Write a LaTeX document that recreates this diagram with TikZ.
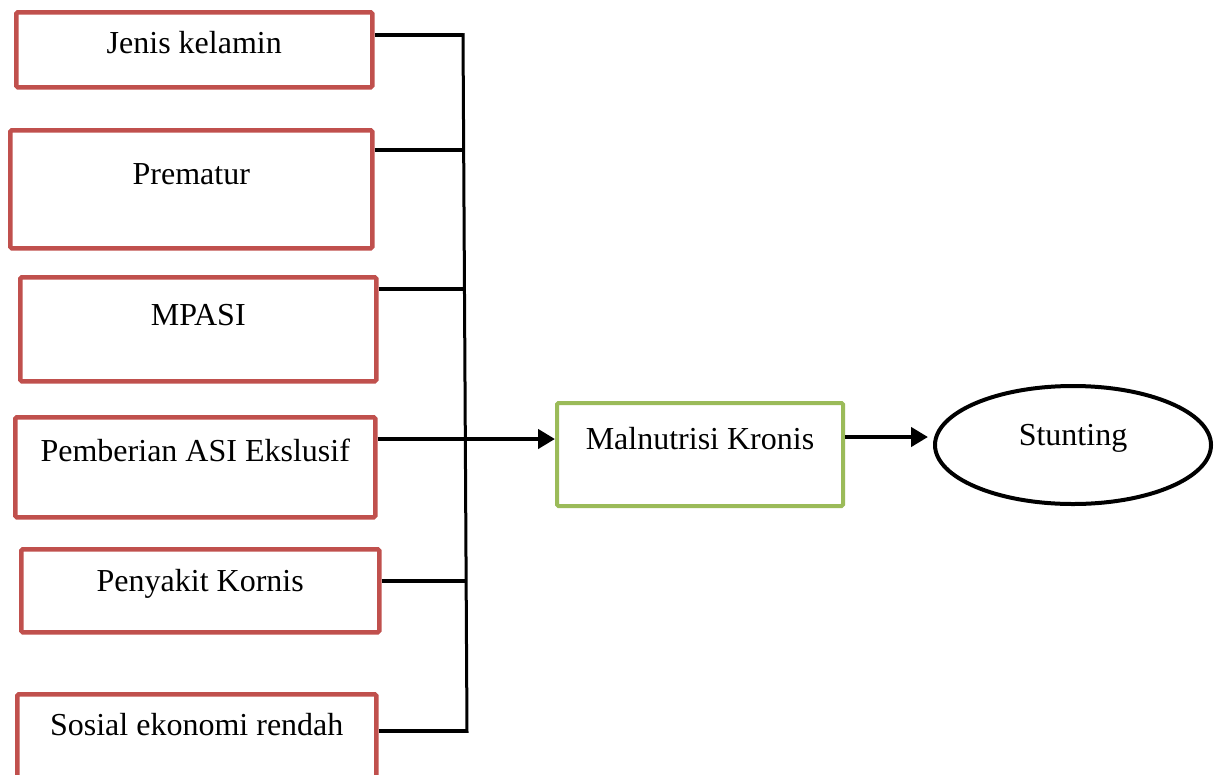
\documentclass[tikz,border=0pt]{standalone}
\usepackage{fontspec}
\setmainfont{Liberation Serif}
\usetikzlibrary{arrows.meta,shapes.geometric}
\definecolor{boxred}{HTML}{C0504D}
\definecolor{boxgreen}{HTML}{9BBB59}
\tikzset{
  factor/.style={draw=boxred, line width=4.5pt, rounded corners=1.5pt, anchor=north west,
    inner sep=0pt, align=center, font=\fontsize{32}{38}\selectfont},
  midbox/.style={draw=boxgreen, line width=4pt, rounded corners=1.5pt, anchor=north west,
    inner sep=0pt, align=center, font=\fontsize{32}{38}\selectfont},
  outcome/.style={draw=black, ellipse, line width=4pt, inner sep=0pt,
    minimum width=276pt, minimum height=118pt, text height=22pt, text depth=22pt,
    font=\fontsize{32}{38}\selectfont},
  bus/.style={line width=3.5pt},
  flow/.style={line width=4.5pt, -{Triangle[length=17pt,width=19pt]}}
}
\begin{document}
\begin{tikzpicture}[x=1pt,y=-1pt]
\useasboundingbox (0,0) rectangle (1222,774);
% factor boxes
\node[factor, minimum width=356pt, minimum height=75pt, text height=41pt, text depth=34pt] (b1) at (14,10) {Jenis kelamin};
\node[factor, minimum width=362pt, minimum height=118pt, text height=54pt, text depth=64pt] (b2) at (8,128) {Prematur};
\node[factor, minimum width=356pt, minimum height=104pt, text height=48pt, text depth=56pt] (b3) at (18,275) {MPASI};
\node[factor, minimum width=360pt, minimum height=100pt, text height=44pt, text depth=56pt] (b4) at (13,415) {Pemberian ASI Ekslusif};
\node[factor, minimum width=358pt, minimum height=83pt, text height=42pt, text depth=41pt] (b5) at (19,547) {Penyakit Kornis};
\node[factor, minimum width=359pt, minimum height=100pt, text height=41pt, text depth=59pt] (b6) at (15,692) {Sosial ekonomi rendah};
% middle box and outcome
\node[midbox, minimum width=286pt, minimum height=103pt, text height=46pt, text depth=57pt] (mk) at (555,401) {Malnutrisi Kronis};
\node[outcome] (st) at (1073,445) {Stunting};
% bus junctions
\coordinate (j1) at (463,35);
\coordinate (j2) at (463,150);
\coordinate (j3) at (464,289);
\coordinate (j4) at (465,439);
\coordinate (j5) at (466,581);
\coordinate (j6) at (467,731);
\draw[bus] (j1 -| b1.east) -- (j1);
\draw[bus] (j2 -| b2.east) -- (j2);
\draw[bus] (j3 -| b3.east) -- (j3);
\draw[bus] (j4 -| b4.east) -- (j4);
\draw[bus] (j5 -| b5.east) -- (j5);
\draw[bus] (j6 -| b6.east) -- (j6);
\draw[line width=3pt] ([yshift=1.75pt]j1) -- ([yshift=-1.75pt]j6);
% arrows
\draw[flow] (j4) -- (j4 -| mk.west);
\draw[flow, shorten >=5pt] (mk.east |- 0,437) -- (st.west |- 0,437);
\end{tikzpicture}
\end{document}
